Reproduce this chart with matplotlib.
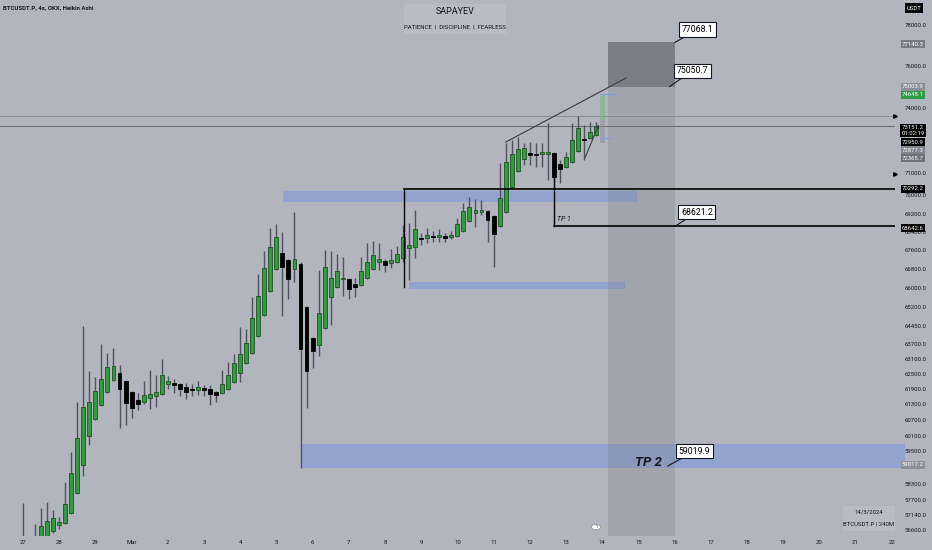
import numpy as np
import matplotlib.pyplot as plt
from matplotlib.patches import Rectangle
from matplotlib.ticker import NullLocator

plt.rcParams['font.family'] = ['Roboto', 'DejaVu Sans']

# BTCUSDT.P 4h Heikin Ashi candles, first candle 27 Feb 00:00
opens = [55710, 55820, 55960, 56243, 56314, 56565, 56781, 56853, 57215, 57946,
         58986, 60082, 60734, 61277, 61785, 62257, 62534, 62218, 61785, 61472,
         61394, 61550, 61628, 61706, 62100, 62139, 62100, 61981, 61902, 61863,
         61942, 61902, 61785, 61745, 61902, 62178, 62534, 62933, 63335, 64021,
         64881, 65877, 66804, 67486, 67187, 66804, 67017, 65211, 63940, 63657,
         64348, 65627, 66045, 66381, 66381, 66171, 66129, 66424, 66804, 67102,
         67145, 67059, 67102, 67273, 67701, 67744, 68132, 68132, 68218, 68175,
         68218, 68175, 68218, 68436, 68871, 69222, 69266, 69310, 69090, 68653,
         69266, 70374, 71093, 71638, 71911, 71865, 71865, 71865, 71911, 71410,
         71274, 71501, 72003, 72553, 72599, 72738]
closes = [56064, 56170, 56310, 56745, 56925, 57033, 56889, 57543, 58687, 60006,
          61199, 61394, 61824, 62297, 62774, 62813, 61902, 61355, 61160, 61316,
          61667, 61706, 61785, 62455, 62218, 62060, 61902, 61785, 61883, 61981,
          61863, 61706, 61667, 62100, 62455, 62933, 63294, 63737, 64757, 65668,
          66846, 67744, 68175, 66889, 66381, 67230, 63495, 62614, 63415, 64963,
          66889, 66424, 66719, 66424, 65961, 66045, 66719, 67102, 67400, 67230,
          66974, 67187, 67443, 68175, 67830, 68523, 68088, 68262, 68197, 68262,
          68132, 68262, 68741, 69310, 69487, 69354, 69354, 68915, 68305, 69884,
          71501, 71865, 72094, 72140, 71820, 71820, 71957, 71957, 70823, 71184,
          71729, 72507, 73062, 72507, 72877, 73151]
highs = [57570, 56350, 56817, 57397, 57616, 57324, 57070, 58352, 59474, 61394,
         64429, 62614, 62376, 63696, 63335, 63536, 62853, 62257, 61824, 61745,
         62218, 62654, 62455, 63093, 62416, 62297, 62139, 62139, 62100, 62218,
         62060, 62060, 61824, 62654, 62973, 63294, 64388, 64307, 65627, 66592,
         67572, 68566, 68741, 68392, 67230, 69266, 67102, 65252, 63981, 66761,
         67615, 67572, 67443, 67315, 66424, 66424, 67315, 67916, 68002, 67916,
         67230, 67658, 67787, 68697, 68784, 69354, 68349, 68566, 68436, 68523,
         68349, 68436, 69003, 69664, 69929, 69840, 69796, 69354, 69134, 71455,
         72369, 72507, 72645, 72369, 72415, 72369, 72369, 73294, 71957, 71592,
         71957, 73294, 73621, 73201, 73340, 73340]
lows = [55530, 55680, 55820, 56135, 56207, 56493, 56637, 56817, 57178, 57910,
        58575, 59740, 60696, 61238, 61745, 62218, 60388, 60503, 60773, 61082,
        61316, 61121, 61199, 61667, 61902, 61745, 61628, 61511, 61628, 61667,
        61628, 61277, 61394, 61706, 61863, 62139, 62178, 62893, 63294, 63981,
        64840, 65835, 66761, 64840, 65544, 66255, 58874, 61160, 62734, 63214,
        64307, 64470, 66003, 65668, 65544, 65627, 66087, 66381, 66761, 66761,
        66677, 66846, 67059, 67102, 66339, 67273, 67830, 67916, 67959, 67959,
        67959, 68088, 68175, 68392, 68828, 68610, 69134, 67959, 66889, 68610,
        69222, 70330, 71048, 71365, 71365, 71274, 71274, 70688, 70598, 70553,
        71229, 71455, 71957, 71592, 72553, 72692]

day_labels = ['27', '28', '29', 'Mar'] + [str(d) for d in range(2, 23)]
price_ticks = [78000, 76000, 74000, 71000, 70000, 69200, 68400, 67600, 66800,
               66000, 65200, 64450, 63700, 63100, 62500, 61900, 61300, 60700,
               60100, 59500, 58300, 57700, 57140, 56600]

# drawings (days counted from 27 Feb, prices in USDT)
pos_start, pos_end = 16.16, 18.01
target_low, target_high = 75003.9, 77140.3
proj_top, proj_mid, proj_bottom = 74648.1, 73434, 72365.7
blue_zones = [(7.18, 16.96, 69708, 70196), (10.66, 16.63, 65961, 66255),
              (7.68, 24.36, 58874, 59778)]
level1, level1_start, level1_low = 70292.2, 10.52, 66045
level2, level2_start, level2_top = 68642.6, 14.67, 70913
trend = ([13.34, 16.66], [72415, 75419])
small_trend = ([15.50, 15.94], [71592, 73340])
last_price, alert_price = 73151.2, 73621

BG = '#b2b5be'
INK = '#131722'
W, H = 932, 550

fig = plt.figure(figsize=(W / 100, H / 100), dpi=100, facecolor=BG)
ax = fig.add_axes([0, 14 / H, 895 / W, 536 / H], facecolor=BG)
ax.set_yscale('log')
ax.set_xlim(-0.635, 24.09)
ax.set_ylim(56389, 79248)

# zones
ax.add_patch(Rectangle((pos_start, 50000), pos_end - pos_start, target_low - 50000,
                       fc='#7c7f88', alpha=0.3, lw=0, zorder=3))
ax.add_patch(Rectangle((pos_start, target_low), pos_end - pos_start, target_high - target_low,
                       fc='#7b7e87', lw=0, zorder=3))
for x0, x1, y0, y1 in blue_zones:
    ax.add_patch(Rectangle((x0, y0), x1 - x0, y1 - y0, fc='#93a3d0', lw=0,
                           zorder=1, clip_on=False))

# horizontal price lines
ax.axhline(alert_price, color='#8e919a', lw=0.8, zorder=1)
ax.axhline(last_price, color='#6d707a', lw=0.8, zorder=1)

# candles
t = np.arange(len(opens)) / 6
o, c = np.array(opens), np.array(closes)
up = c >= o
ax.vlines(t, lows, highs, color='#50535e', lw=1, zorder=2)
bottoms = np.minimum(o, c)
heights = np.maximum(np.abs(c - o), 8)
ax.bar(t[up], heights[up], bottom=bottoms[up], width=0.108, color='#349a40',
       edgecolor='#1f5226', lw=0.6, zorder=2)
ax.bar(t[~up], heights[~up], bottom=bottoms[~up], width=0.108, color='black',
       edgecolor='black', lw=0.6, zorder=2)

# projection bar on the last candle
tp = 96 / 6
ax.add_patch(Rectangle((tp - 0.07, proj_mid), 0.14, proj_top - proj_mid,
                       fc='#6fb77a', alpha=0.55, lw=0, zorder=3))
ax.add_patch(Rectangle((tp - 0.07, proj_bottom), 0.14, proj_mid - proj_bottom,
                       fc='#8b8e97', alpha=0.5, lw=0, zorder=3))
ax.hlines([proj_top, 72599], tp - 0.07, [tp + 0.38, tp + 0.25], color='#7f9de0', lw=0.8, zorder=3)

# levels
ax.plot([level1_start, 30], [level1, level1], color='black', lw=1.2, zorder=4)
ax.plot([level1_start, level1_start], [level1, level1_low], color='black', lw=1, zorder=4)
ax.plot([level2_start, 30], [level2, level2], color='black', lw=1.2, zorder=4)
ax.plot([level2_start, level2_start], [level2_top, level2], color='black', lw=1, zorder=4)

ax.plot(*trend, color='#3a3d46', lw=0.8, zorder=4)
ax.annotate('', xy=(small_trend[0][1], small_trend[1][1]),
            xytext=(small_trend[0][0], small_trend[1][0]),
            arrowprops=dict(arrowstyle='->', color='#3a3d46', lw=0.8, mutation_scale=5), zorder=4)

ax.text(14.75, 68958, 'TP 1', fontsize=5, style='italic', color=INK, va='center', zorder=5)
ax.text(16.9, 59098, 'TP 2', fontsize=9.5, style='italic', weight='bold', color=INK,
        va='center', zorder=5)


def callout(text, xy, dx, dy):
    ax.annotate(text, xy=xy, xytext=(dx, dy), textcoords='offset pixels',
                ha='center', va='center', fontsize=6.3, color='black', zorder=6,
                bbox=dict(boxstyle='square,pad=0.3', fc='white', ec=INK, lw=0.8),
                arrowprops=dict(arrowstyle='-', color=INK, lw=0.8, shrinkA=0, shrinkB=0))


callout('77068.1', (pos_end, target_high), 23, 13)
callout('75050.7', (pos_end - 0.15, target_low), 23, 16)
callout('68621.2', (pos_end, level2), 22, 14)
callout('59019.9', (pos_end - 0.2, 58948), 27, 15)

# axes
for s in ax.spines.values():
    s.set_visible(False)
ax.set_xticks(np.arange(len(day_labels)))
ax.set_xticklabels(day_labels)
ax.tick_params(axis='x', length=0, pad=3, labelsize=4.3, labelcolor=INK)
ax.yaxis.tick_right()
ax.set_yticks(price_ticks)
ax.set_yticklabels([f'{p:.1f}' for p in price_ticks])
ax.yaxis.set_minor_locator(NullLocator())
ax.tick_params(axis='y', length=0, pad=7, labelsize=4.3, labelcolor=INK)
ax.plot([1.0, 1.0], [alert_price, 70958], marker='>', ms=2.5, color='black', ls='none',
        transform=ax.get_yaxis_transform(), clip_on=False, zorder=6)


def fx(px):
    return px / W


def fy(py):
    return 1 - py / H


axis_labels = [(44, '77140.3', '#787b86'), (87, '75003.9', '#8c8f98'),
               (95, '74648.1', '#2e9b45'), (130.5, '73151.2\n01:02:19', 'black'),
               (142, '72950.9', 'black'), (150, '72877.3', '#80838c'),
               (158, '72365.7', '#6f727b'), (189, '70292.2', 'black'),
               (228, '68642.6', 'black'), (465, '59017.2', '#8e9199')]
for py, txt, col in axis_labels:
    fig.text(fx(913), fy(py), txt, ha='center', va='center', fontsize=4.3, color='white',
             linespacing=1.15, zorder=10,
             bbox=dict(boxstyle='square,pad=0.25', fc=col, ec='none'))
fig.text(fx(914), fy(8), 'USDT', ha='center', va='center', fontsize=4.3, color='white',
         bbox=dict(boxstyle='square,pad=0.35', fc='black', ec='none'))

fig.text(fx(3), fy(8), 'BTCUSDT.P, 4s, OKX, Heikin Ashi', fontsize=4.3, weight='bold',
         color=INK, va='center')

fig.patches.append(Rectangle((fx(404), fy(34)), fx(102), 30 / H, transform=fig.transFigure,
                             fc='#b9bcc4', lw=0, zorder=5))
fig.text(fx(455), fy(12), 'SAPAYEV', ha='center', va='center', fontsize=6.5, color=INK, zorder=6)
fig.text(fx(455), fy(27), 'PATIENCE  |  DISCIPLINE  |  FEARLESS', ha='center', va='center',
         fontsize=4.3, color=INK, zorder=6)

fig.patches.append(Rectangle((fx(843), fy(531)), fx(52), 25 / H, transform=fig.transFigure,
                             fc='#b9bcc4', lw=0, zorder=5))
fig.text(fx(869), fy(512), '14/3/2024', ha='center', va='center', fontsize=4.3, color=INK, zorder=6)
fig.text(fx(869), fy(524), 'BTCUSDT.P | 240M', ha='center', va='center', fontsize=4.3,
         color=INK, zorder=6)

fig.patches.append(plt.Circle((fx(596), fy(527)), 4.5 / W, transform=fig.transFigure,
                              fc='white', ec='#9598a1', lw=0.6, zorder=6))
fig.text(fx(596), fy(527), 'ϟ', ha='center', va='center', fontsize=4, color='#6a6d78', zorder=7)

fig.savefig('out.png', dpi=100, facecolor=BG)
